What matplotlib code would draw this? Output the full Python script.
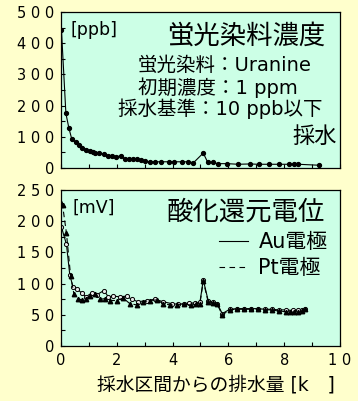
import matplotlib
matplotlib.use("Agg")
import matplotlib.pyplot as plt
from matplotlib.lines import Line2D
from matplotlib.ticker import MultipleLocator, FuncFormatter

plt.rcParams['font.family'] = ['DejaVu Sans', 'Noto Sans CJK JP']

# --- data ---
ppb_x = [0.02, 0.18, 0.29, 0.39, 0.53, 0.66, 0.77, 0.9, 1.04, 1.14, 1.23, 1.38, 1.56, 1.69,
         1.83, 1.99, 2.14, 2.28, 2.43, 2.59, 2.73, 2.86, 3.03, 3.19, 3.37, 3.57, 3.87, 4.05,
         4.33, 4.57, 4.75, 5.1, 5.26, 5.44, 5.62, 5.96, 6.35, 6.76, 7.08, 7.46, 7.81, 8.17,
         8.34, 8.51, 9.23]
ppb_y = [444, 175, 127, 93, 82, 74, 65, 59, 54, 51, 49, 47, 44, 40,
         40, 35, 40, 29, 29, 29, 29, 26, 21, 20, 20, 20, 20, 20,
         20, 20, 17, 48, 18, 18, 14, 14, 12, 13, 12, 12, 12, 12,
         12, 12, 9]

au_x = [0.02, 0.2, 0.32, 0.44, 0.58, 0.74, 0.9, 1.1, 1.28, 1.54, 1.7, 1.87, 2.11, 2.36,
        2.53, 2.77, 3.07, 3.37, 3.67, 3.97, 4.2, 4.4, 4.6, 4.8, 4.98, 5.1, 5.28, 5.46, 5.6,
        5.78, 6.05, 6.3, 6.55, 6.8, 7.05, 7.3, 7.55, 7.8, 8.05, 8.3, 8.5, 8.65, 8.75]
au_y = [191, 163, 114, 94, 92, 85, 79, 85, 82, 89, 79, 80, 79, 80,
        75, 71, 73, 75, 71, 68, 67, 68, 69, 69, 70, 106, 72, 71, 68,
        52, 59, 60, 60, 60, 60, 59, 59, 58, 58, 57, 57, 58, 60]

pt_x = [0.02, 0.06, 0.2, 0.35, 0.47, 0.62, 0.74, 0.9, 1.04, 1.22, 1.4, 1.58, 1.76, 2.0,
        2.23, 2.47, 2.71, 2.95, 3.19, 3.43, 3.67, 3.9, 4.15, 4.4, 4.65, 4.85, 4.98, 5.1,
        5.28, 5.46, 5.6, 5.78, 6.05, 6.3, 6.55, 6.8, 7.05, 7.3, 7.55, 7.8, 8.05, 8.2, 8.35,
        8.5, 8.65, 8.75]
pt_y = [229, 226, 181, 112, 83, 76, 74, 76, 80, 83, 75, 76, 73, 73,
        77, 68, 66, 71, 73, 74, 68, 66, 66, 67, 66, 67, 68, 104,
        70, 69, 67, 50, 58, 59, 59, 59, 59, 58, 58, 56, 55, 55, 54,
        55, 56, 59]

BG = '#FFFFCC'
AXBG = '#CCFFE6'

fig = plt.figure(figsize=(3.58, 4.01), dpi=100, facecolor=BG)
ax1 = fig.add_axes([0.170, 0.581, 0.780, 0.389], facecolor=AXBG)
ax2 = fig.add_axes([0.170, 0.137, 0.780, 0.389], facecolor=AXBG)

spaced = FuncFormatter(lambda v, p: ' '.join(str(int(round(v)))))

ax1.plot(ppb_x, ppb_y, '-o', color='black', lw=0.8, ms=2.8)
ax2.plot(au_x, au_y, '-o', color='black', lw=0.8, ms=3, mfc='#e8e8e8', mew=0.7)
ax2.plot(pt_x, pt_y, '^', color='black', ls=(0, (5, 3)), lw=0.8, ms=3.2)

for ax in (ax1, ax2):
    ax.set_xlim(0, 10)
    ax.xaxis.set_major_locator(MultipleLocator(2))
    ax.xaxis.set_minor_locator(MultipleLocator(1))
    ax.yaxis.set_major_formatter(spaced)
    ax.xaxis.set_major_formatter(spaced)
    ax.tick_params(which='both', direction='in', top=False, right=False,
                   length=3, width=0.8, labelsize=10.5, pad=5)
    for s in ax.spines.values():
        s.set_color('black')
        s.set_linewidth(0.9)

ax1.set_ylim(0, 500)
ax1.yaxis.set_major_locator(MultipleLocator(100))
ax1.yaxis.set_minor_locator(MultipleLocator(50))
ax1.tick_params(axis='x', labelbottom=False)

ax2.set_ylim(0, 250)
ax2.yaxis.set_major_locator(MultipleLocator(50))
ax2.yaxis.set_minor_locator(MultipleLocator(25))

# texts top
ax1.text(0.036, 0.885, '[ppb]', transform=ax1.transAxes, fontsize=12.5, va='center', ha='left')
ax1.text(0.665, 0.84, '蛍光染料濃度', transform=ax1.transAxes, fontsize=19, va='center', ha='center')
ax1.text(0.588, 0.66, '蛍光染料：Uranine', transform=ax1.transAxes, fontsize=14, va='center', ha='center')
ax1.text(0.563, 0.516, '初期濃度：1 ppm', transform=ax1.transAxes, fontsize=14, va='center', ha='center')
ax1.text(0.57, 0.378, '採水基準：10 ppb以下', transform=ax1.transAxes, fontsize=14, va='center', ha='center')
ax1.text(0.99, 0.199, '採水', transform=ax1.transAxes, fontsize=16, va='center', ha='right')

# texts bottom
ax2.text(0.043, 0.888, '[mV]', transform=ax2.transAxes, fontsize=12.5, va='center', ha='left')
ax2.text(0.663, 0.853, '酸化還元電位', transform=ax2.transAxes, fontsize=19, va='center', ha='center')
handles = [Line2D([], [], color='black', lw=0.8, ls='-'),
           Line2D([], [], color='black', lw=0.8, ls=(0, (5, 4)))]
ax2.legend(handles, ['Au電極', 'Pt電極'], loc='upper right', bbox_to_anchor=(0.955, 0.73),
           frameon=False, fontsize=15, handlelength=1.4, handletextpad=0.5,
           labelspacing=0.3, borderpad=0, borderaxespad=0)

ax2.set_xlabel('採水区間からの排水量 [k　]', fontsize=13.5)
ax2.xaxis.set_label_coords(0.557, -0.25, transform=ax2.transAxes)
ax2.xaxis.label.set_va('center')

fig.savefig('out.png', dpi=100, facecolor=BG)
